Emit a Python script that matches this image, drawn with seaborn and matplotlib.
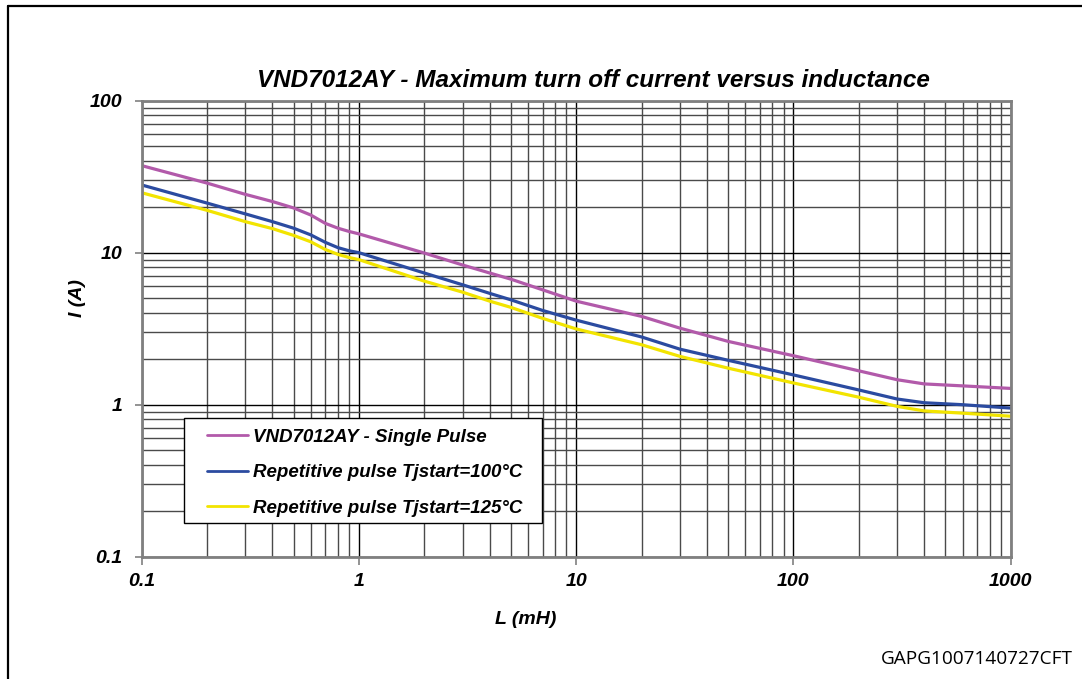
import matplotlib
matplotlib.use("Agg")
import matplotlib.pyplot as plt
import seaborn as sns
import pandas as pd
import numpy as np
from matplotlib.ticker import LogLocator, NullFormatter
from matplotlib.lines import Line2D
from matplotlib.patches import Rectangle

# ---------------- data ----------------
inductance_mH = [0.1, 0.2, 0.3, 0.4, 0.5, 0.6, 0.7, 0.8, 0.9, 1, 2, 3, 4, 5, 7, 10,
                 20, 30, 50, 100, 200, 300, 400, 600, 1000]
single_pulse = [37.4, 28.7, 24.2, 21.7, 19.7, 17.7, 15.6, 14.5, 13.8, 13.3, 9.95, 8.3,
                7.35, 6.7, 5.7, 4.8, 3.81, 3.19, 2.61, 2.10, 1.67, 1.46, 1.37, 1.33, 1.28]
rep_100C = [27.9, 21.2, 18.0, 16.0, 14.5, 13.1, 11.7, 10.8, 10.3, 10.0, 7.35, 6.15,
            5.4, 4.9, 4.17, 3.6, 2.79, 2.32, 1.96, 1.57, 1.25, 1.09, 1.03, 1.0, 0.95]
rep_125C = [24.8, 19.0, 16.0, 14.4, 13.0, 11.8, 10.5, 9.75, 9.3, 9.0, 6.5, 5.5,
            4.8, 4.37, 3.7, 3.15, 2.48, 2.08, 1.74, 1.39, 1.12, 0.975, 0.91, 0.88, 0.84]
series_names = ["VND7012AY - Single Pulse",
                "Repetitive pulse Tjstart=100°C",
                "Repetitive pulse Tjstart=125°C"]
series_colors = ["#B25AAA", "#2B4BA0", "#F2E400"]
x_ticks = [0.1, 1, 10, 100, 1000]
x_tick_labels = ["0.1", "1", "10", "100", "1000"]
y_ticks = [0.1, 1, 10, 100]
y_tick_labels = ["0.1", "1", "10", "100"]
title = "VND7012AY - Maximum turn off current versus inductance"
x_label = "L (mH)"
y_label = "I (A)"
footer = "GAPG1007140727CFT"

# ---------------- build table ----------------
frames = []
for name, vals in zip(series_names, [single_pulse, rep_100C, rep_125C]):
    frames.append(pd.DataFrame({"L": inductance_mH, "I": vals, "series": name}))
df = pd.concat(frames, ignore_index=True)

sns.set_theme(style="white")
plt.rcParams["font.family"] = ["Liberation Sans", "DejaVu Sans"]
plt.rcParams["text.color"] = "black"
plt.rcParams["axes.labelcolor"] = "black"
plt.rcParams["xtick.color"] = "black"
plt.rcParams["ytick.color"] = "black"

W, H = 1082, 679
fig = plt.figure(figsize=(W / 100, H / 100), dpi=100)
ax_l, ax_r, ax_t, ax_b = 141.7, 1010.7, 100.7, 556.7
aw, ah = ax_r - ax_l, ax_b - ax_t
ax = fig.add_axes([ax_l / W, 1 - ax_b / H, aw / W, ah / H])


def ax_x(px):
    return (px - ax_l) / aw


def ax_y(py):
    return (ax_b - py) / ah


sns.lineplot(data=df, x="L", y="I", hue="series", hue_order=series_names,
             palette=dict(zip(series_names, series_colors)), linewidth=2.3,
             estimator=None, sort=False, ax=ax)

ax.set_xscale("log")
ax.set_yscale("log")
ax.set_xlim(0.1, 1000)
ax.set_ylim(0.1, 100)

ax.xaxis.set_minor_locator(LogLocator(base=10, subs=np.arange(2, 10)))
ax.yaxis.set_minor_locator(LogLocator(base=10, subs=np.arange(2, 10)))
ax.xaxis.set_minor_formatter(NullFormatter())
ax.yaxis.set_minor_formatter(NullFormatter())
ax.set_axisbelow(True)
ax.grid(which="major", color="black", linewidth=1.0)
ax.grid(which="minor", color="#4a4a4a", linewidth=1.0)

lab_font = dict(fontweight="bold", fontstyle="italic", fontsize=14, color="black")
ax.set_xticks(x_ticks)
ax.set_xticklabels(x_tick_labels, **lab_font)
ax.set_yticks(y_ticks)
ax.set_yticklabels(y_tick_labels, **lab_font)
ax.tick_params(axis="x", which="major", direction="out", length=6, width=1.2,
               color="#808080", labelcolor="black", pad=6, bottom=True)
ax.tick_params(axis="y", which="major", direction="out", length=5, width=1.2,
               color="#808080", labelcolor="black", pad=9, left=True)
ax.tick_params(which="minor", length=0)

for sp in ax.spines.values():
    sp.set_color("#808080")
    sp.set_linewidth(2.0)

ax.set_xlabel(x_label, fontweight="bold", fontstyle="italic", fontsize=14, color="black")
ax.set_ylabel(y_label, fontweight="bold", fontstyle="italic", fontsize=14, color="black")
ax.xaxis.label.set_va("center")
ax.yaxis.label.set_va("center")
ax.xaxis.set_label_coords(ax_x(526), ax_y(620))
ax.yaxis.set_label_coords(ax_x(77), ax_y(298))

ax.set_title(title, fontweight="bold", fontstyle="italic", fontsize=17.5,
             color="black", x=ax_x(593), pad=10)

# legend frame (drawn as a box matching the reference) and legend entries
ax.add_patch(Rectangle((ax_x(184.3), ax_y(523.3)), ax_x(541.6) - ax_x(184.3),
                       ax_y(418.3) - ax_y(523.3), transform=ax.transAxes,
                       facecolor="white", edgecolor="black", linewidth=1.0, zorder=4))
leg = ax.legend(loc="center left", bbox_to_anchor=(ax_x(207), ax_y(472.5)),
                borderaxespad=0, frameon=False,
                prop=dict(weight="bold", style="italic", size=13.5),
                handlelength=2.2, handletextpad=0.25, labelspacing=0.98, borderpad=0)
leg.set_zorder(5)
for t in leg.get_texts():
    t.set_color("black")
for h in leg.get_lines():
    h.set_linewidth(2.0)

fig.text(1073 / W, 1 - 659 / H, footer, ha="right", va="center", color="black",
         fontsize=13.7, family=["Open Sans", "DejaVu Sans"])

# outer frame of the figure box
fig.add_artist(Line2D([7.5 / W, 7.5 / W], [0, 1 - 5.5 / H], transform=fig.transFigure,
                      color="black", linewidth=1.6))
fig.add_artist(Line2D([7.5 / W, 1], [1 - 5.5 / H, 1 - 5.5 / H], transform=fig.transFigure,
                      color="black", linewidth=1.6))

fig.savefig("out.png", dpi=100)
